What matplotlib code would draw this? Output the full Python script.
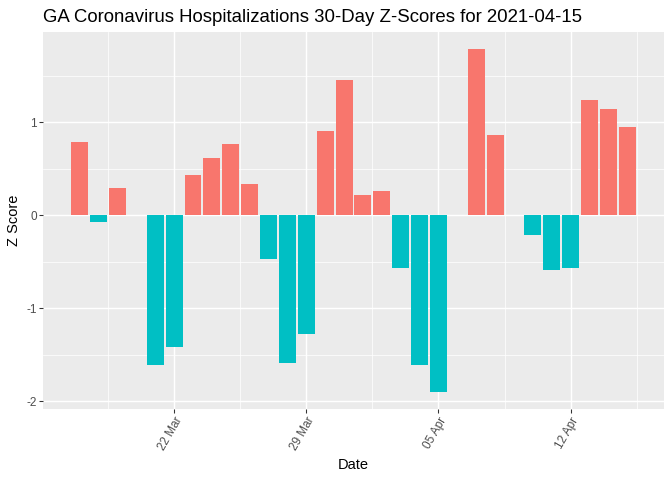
import numpy as np
import pandas as pd
import matplotlib
matplotlib.use('Agg')
import matplotlib.pyplot as plt
import matplotlib.dates as mdates

plt.rcParams['font.family'] = ['Liberation Sans', 'DejaVu Sans']

# Z-scores (missing days are simply absent)
dates = ['2021-03-17', '2021-03-18', '2021-03-19', '2021-03-21', '2021-03-22',
         '2021-03-23', '2021-03-24', '2021-03-25', '2021-03-26', '2021-03-27',
         '2021-03-28', '2021-03-29', '2021-03-30', '2021-03-31', '2021-04-01',
         '2021-04-02', '2021-04-03', '2021-04-04', '2021-04-05', '2021-04-07',
         '2021-04-08', '2021-04-10', '2021-04-11', '2021-04-12', '2021-04-13',
         '2021-04-14', '2021-04-15']
zscores = [0.79, -0.075, 0.29, -1.61, -1.42,
           0.43, 0.615, 0.765, 0.335, -0.47,
           -1.59, -1.28, 0.905, 1.455, 0.215,
           0.26, -0.57, -1.61, -1.90, 1.79,
           0.865, -0.21, -0.59, -0.57, 1.24,
           1.145, 0.95]

tick_dates = ['2021-03-22', '2021-03-29', '2021-04-05', '2021-04-12']
tick_labels = ['22 Mar', '29 Mar', '05 Apr', '12 Apr']

x = mdates.date2num(pd.to_datetime(dates))
z = np.array(zscores)
colors = np.where(z >= 0, '#F8766D', '#00BFC4')

fig = plt.figure(figsize=(7, 5), dpi=96)
ax = fig.add_axes([0.064, 0.148, 0.924, 0.786])
ax.set_facecolor('#EBEBEB')
ax.bar(x, z, width=0.9, color=colors, zorder=3)

# ggplot-like limits with 5% expansion
lo, hi = x.min() - 0.45, x.max() + 0.45
pad = (hi - lo) * 0.05
ax.set_xlim(lo - pad, hi + pad)
ylo, yhi = z.min(), z.max()
ypad = (yhi - ylo) * 0.05
ax.set_ylim(ylo - ypad, yhi + ypad)

ticks = mdates.date2num(pd.to_datetime(tick_dates))
ax.set_xticks(ticks)
ax.set_xticklabels(tick_labels, rotation=60, ha='right', va='top',
                   rotation_mode='anchor', fontsize=8.8, color='#4D4D4D')
ax.set_xticks(np.append(ticks - 3.5, ticks[-1] + 3.5), minor=True)
ax.set_yticks([-2, -1, 0, 1])
ax.set_yticklabels(['-2', '-1', '0', '1'], fontsize=8.8, color='#4D4D4D')
ax.set_yticks([-1.5, -0.5, 0.5, 1.5], minor=True)

ax.grid(True, which='major', color='white', linewidth=1.1, zorder=0)
ax.grid(True, which='minor', color='white', linewidth=0.55, zorder=0)
ax.set_axisbelow(True)
ax.tick_params(which='major', length=2.75, width=0.8, color='#333333', pad=2)
ax.tick_params(which='minor', length=0)
for s in ax.spines.values():
    s.set_visible(False)

ax.set_xlabel('Date', fontsize=11, labelpad=4)
ax.set_ylabel('Z Score', fontsize=11, labelpad=4)
ax.set_title('GA Coronavirus Hospitalizations 30-Day Z-Scores for 2021-04-15',
             fontsize=14, loc='left', pad=7)

fig.savefig('out.png', dpi=96)
